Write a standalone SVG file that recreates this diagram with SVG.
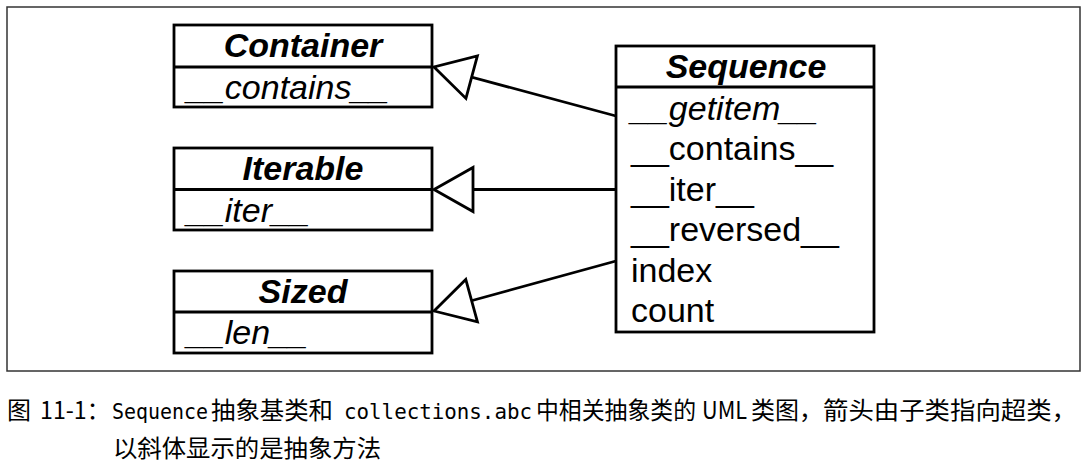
<svg xmlns="http://www.w3.org/2000/svg" width="1088" height="471" viewBox="0 0 1088 471">
<style>
.box{fill:#fff;stroke:#000;stroke-width:2.8}
.div{stroke:#000;stroke-width:2.8}
.title{font-family:"Liberation Sans",Arial,sans-serif;font-size:34px;font-weight:bold;font-style:italic;text-anchor:middle;fill:#000}
.m{font-family:"Liberation Sans",Arial,sans-serif;font-size:34px;fill:#000}
.i{font-style:italic}
.conn{stroke:#000;stroke-width:2.8;fill:none;marker-end:url(#gen)}
.cap{font-family:"Noto Sans CJK SC","Noto Sans",sans-serif;font-size:24px;fill:#000}
.mono{font-family:"DejaVu Sans Mono","Liberation Mono",monospace;font-size:21px}
</style>
<defs>
<marker id="gen" markerUnits="userSpaceOnUse" orient="auto" refX="0" refY="0" markerWidth="60" markerHeight="60" overflow="visible">
<path d="M0,0 L-39,-22 L-39,22 Z" fill="#fff" stroke="#000" stroke-width="2.8" stroke-linejoin="miter"/>
</marker>
</defs>
<rect x="7" y="7" width="1073" height="364" fill="none" stroke="#333" stroke-width="1.5"/>
<g id="connectors">
<line class="conn" x1="616" y1="116" x2="434" y2="67"/>
<line class="conn" x1="616" y1="189.5" x2="434" y2="189.5"/>
<line class="conn" x1="616" y1="261" x2="434" y2="311"/>
</g>
<g id="container">
<rect class="box" x="174" y="25" width="258" height="82"/>
<line class="div" x1="174" y1="67" x2="432" y2="67"/>
<text class="title" x="303" y="57">Container</text>
<text class="m i" x="187" y="99">__contains__</text>
</g>
<g id="iterable">
<rect class="box" x="174" y="148" width="258" height="82"/>
<line class="div" x1="174" y1="189.5" x2="432" y2="189.5"/>
<text class="title" x="303" y="180">Iterable</text>
<text class="m i" x="187" y="222">__iter__</text>
</g>
<g id="sized">
<rect class="box" x="174" y="271" width="258" height="82"/>
<line class="div" x1="174" y1="312" x2="432" y2="312"/>
<text class="title" x="303" y="303">Sized</text>
<text class="m i" x="187" y="344">__len__</text>
</g>
<g id="sequence">
<rect class="box" x="616" y="46" width="258" height="286"/>
<line class="div" x1="616" y1="87" x2="874" y2="87"/>
<text class="title" x="746" y="78">Sequence</text>
<text class="m i" x="631" y="119.5">__getitem__</text>
<text class="m" x="631" y="160">__contains__</text>
<text class="m" x="631" y="200.5">__iter__</text>
<text class="m" x="631" y="241">__reversed__</text>
<text class="m" x="631" y="281.5">index</text>
<text class="m" x="631" y="322">count</text>
</g>
<g id="caption">
<text class="cap" y="419"><tspan x="7" textLength="24" lengthAdjust="spacingAndGlyphs">图</tspan><tspan x="40" textLength="70" lengthAdjust="spacingAndGlyphs">11-1：</tspan><tspan class="mono" x="112" textLength="96" lengthAdjust="spacingAndGlyphs">Sequence</tspan><tspan x="211" textLength="122" lengthAdjust="spacingAndGlyphs">抽象基类和</tspan><tspan class="mono" x="344" textLength="188" lengthAdjust="spacingAndGlyphs">collections.abc</tspan><tspan x="536" textLength="160" lengthAdjust="spacingAndGlyphs">中相关抽象类的</tspan><tspan x="702" textLength="45" lengthAdjust="spacingAndGlyphs">UML</tspan><tspan x="751" textLength="72" lengthAdjust="spacingAndGlyphs">类图，</tspan><tspan x="823" textLength="254" lengthAdjust="spacingAndGlyphs">箭头由子类指向超类，</tspan></text>
<text class="cap" x="113" y="457" textLength="268" lengthAdjust="spacingAndGlyphs">以斜体显示的是抽象方法</text>
</g>
</svg>
